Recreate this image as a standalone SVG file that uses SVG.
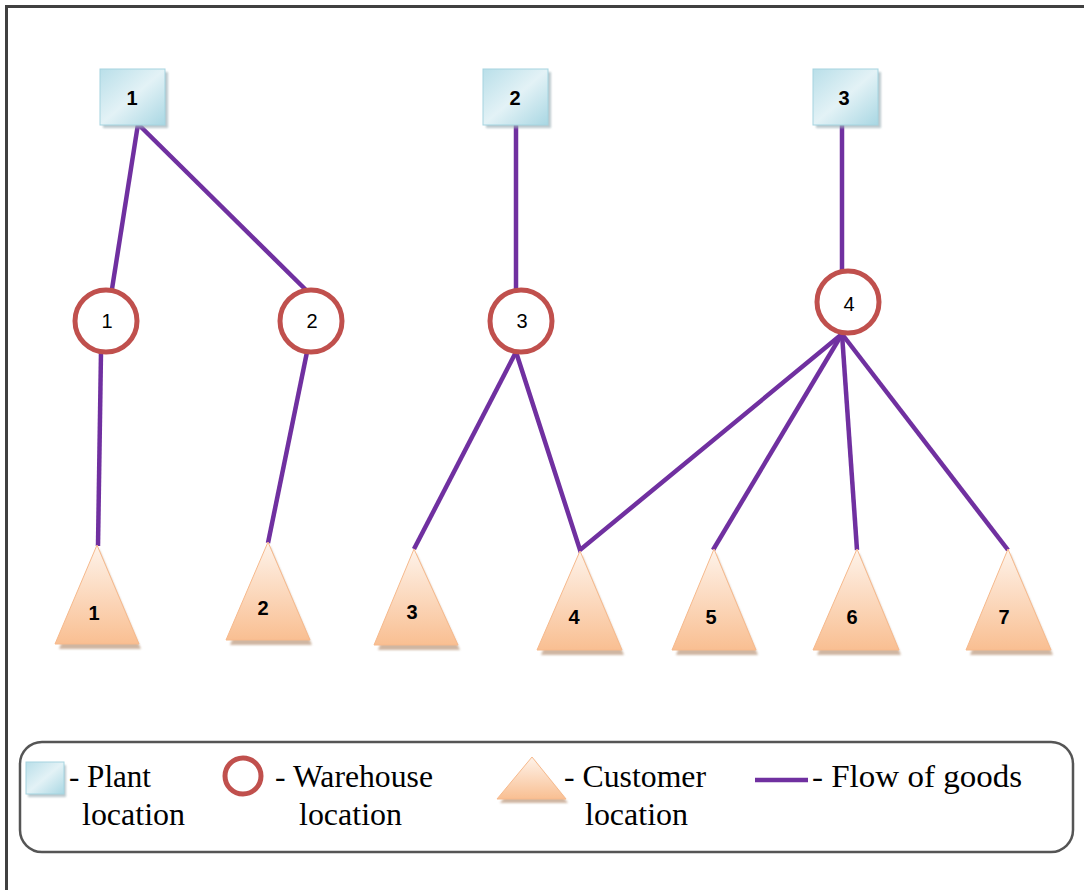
<svg xmlns="http://www.w3.org/2000/svg" width="1084" height="890" viewBox="0 0 1084 890">
  <defs>
    <linearGradient id="plantFill" x1="0" y1="0" x2="1" y2="1">
      <stop offset="0" stop-color="#b9dfe9"/>
      <stop offset="0.5" stop-color="#e3f2f6"/>
      <stop offset="1" stop-color="#a9d7e3"/>
    </linearGradient>
    <linearGradient id="custFill" x1="0" y1="0" x2="0" y2="1">
      <stop offset="0" stop-color="#fef3ea"/>
      <stop offset="1" stop-color="#f9bf92"/>
    </linearGradient>
    <filter id="soft" x="-20%" y="-20%" width="140%" height="140%">
      <feGaussianBlur stdDeviation="1.2"/>
    </filter>
  </defs>
  <style>
    .frame { fill: none; stroke: #404040; stroke-width: 3; }
    .plant { fill: url(#plantFill); stroke: #a5d4e0; stroke-width: 1; }
    .plant-shadow { fill: #9fb3b9; opacity: 0.7; filter: url(#soft); }
    .wh { fill: #ffffff; stroke: #c0504d; stroke-width: 5; }
    .cust { fill: url(#custFill); stroke: #f6b98c; stroke-width: 1; }
    .cust-shadow { fill: #c4a58c; opacity: 0.8; filter: url(#soft); }
    .flow { stroke: #7030a0; stroke-width: 4.5; stroke-linecap: butt; fill: none; }
    .num { font-family: "Liberation Sans", "DejaVu Sans", sans-serif; font-size: 20px; fill: #000; text-anchor: middle; }
    .bold { font-weight: bold; }
    .legend-box { fill: #ffffff; stroke: #555555; stroke-width: 2.5; }
    .legend-text { font-family: "Liberation Serif", "DejaVu Serif", serif; font-size: 31px; fill: #000; }
  </style>

  <rect x="0" y="0" width="1084" height="890" fill="#ffffff"/>
  <path class="frame" d="M6.5 890 V6.5 H1084"/>

  <!-- flows of goods -->
  <g id="connectors">
    <line class="flow" x1="138" y1="124" x2="112" y2="289"/>
    <line class="flow" x1="138" y1="124" x2="306" y2="290"/>
    <line class="flow" x1="101" y1="352" x2="98" y2="546"/>
    <line class="flow" x1="307" y1="352" x2="268" y2="543"/>
    <line class="flow" x1="516" y1="125" x2="516" y2="290"/>
    <line class="flow" x1="516" y1="352" x2="414" y2="549"/>
    <polyline class="flow" points="516,352 580,550 842,334"/>
    <line class="flow" x1="842" y1="125" x2="842" y2="272"/>
    <line class="flow" x1="842" y1="334" x2="713" y2="550"/>
    <line class="flow" x1="842" y1="334" x2="857" y2="550"/>
    <line class="flow" x1="842" y1="334" x2="1008" y2="550"/>
  </g>

  <!-- plants -->
  <g id="plant-1">
    <rect class="plant-shadow" x="103" y="72" width="65" height="56"/>
    <rect class="plant" x="100" y="69" width="65" height="56"/>
    <text class="num bold" x="132" y="105">1</text>
  </g>
  <g id="plant-2">
    <rect class="plant-shadow" x="486" y="72" width="65" height="56"/>
    <rect class="plant" x="483" y="69" width="65" height="56"/>
    <text class="num bold" x="515" y="105">2</text>
  </g>
  <g id="plant-3">
    <rect class="plant-shadow" x="816" y="72" width="65" height="56"/>
    <rect class="plant" x="813" y="69" width="65" height="56"/>
    <text class="num bold" x="844" y="105">3</text>
  </g>

  <!-- warehouses -->
  <g id="warehouse-1">
    <circle class="wh" cx="106" cy="321" r="31"/>
    <text class="num" x="107" y="328">1</text>
  </g>
  <g id="warehouse-2">
    <circle class="wh" cx="311" cy="321" r="31"/>
    <text class="num" x="312" y="328">2</text>
  </g>
  <g id="warehouse-3">
    <circle class="wh" cx="521" cy="321" r="31"/>
    <text class="num" x="522" y="328">3</text>
  </g>
  <g id="warehouse-4">
    <circle class="wh" cx="848" cy="302" r="31"/>
    <text class="num" x="849" y="311">4</text>
  </g>

  <!-- customers -->
  <g id="customer-1">
    <polygon class="cust-shadow" points="99,549 141,649 59,649"/>
    <polygon class="cust" points="97,545 139,644 55,644"/>
    <text class="num bold" x="94" y="620">1</text>
  </g>
  <g id="customer-2">
    <polygon class="cust-shadow" points="270,546 312,645 230,645"/>
    <polygon class="cust" points="268,542 310,640 226,640"/>
    <text class="num bold" x="263" y="615">2</text>
  </g>
  <g id="customer-3">
    <polygon class="cust-shadow" points="416,553 460,650 378,650"/>
    <polygon class="cust" points="414,549 458,645 374,645"/>
    <text class="num bold" x="412" y="619">3</text>
  </g>
  <g id="customer-4">
    <polygon class="cust-shadow" points="582,555 624,655 541,655"/>
    <polygon class="cust" points="580,551 622,650 537,650"/>
    <text class="num bold" x="574" y="624">4</text>
  </g>
  <g id="customer-5">
    <polygon class="cust-shadow" points="716,553 758,655 676,655"/>
    <polygon class="cust" points="714,549 756,650 672,650"/>
    <text class="num bold" x="711" y="624">5</text>
  </g>
  <g id="customer-6">
    <polygon class="cust-shadow" points="859,553 901,655 817,655"/>
    <polygon class="cust" points="857,549 899,650 813,650"/>
    <text class="num bold" x="852" y="624">6</text>
  </g>
  <g id="customer-7">
    <polygon class="cust-shadow" points="1010,553 1053,655 970,655"/>
    <polygon class="cust" points="1008,549 1051,650 966,650"/>
    <text class="num bold" x="1004" y="624">7</text>
  </g>

  <!-- legend -->
  <g id="legend">
    <rect class="legend-box" x="20" y="742" width="1053" height="110" rx="22" ry="22"/>
    <rect class="plant-shadow" x="28" y="765" width="38" height="32"/>
    <rect class="plant" x="26" y="762" width="38" height="32"/>
    <text class="legend-text" x="69" y="787" textLength="82" lengthAdjust="spacingAndGlyphs">- Plant</text>
    <text class="legend-text" x="82" y="825" textLength="103" lengthAdjust="spacingAndGlyphs">location</text>

    <circle class="wh" cx="243" cy="776" r="18"/>
    <text class="legend-text" x="275" y="787" textLength="158" lengthAdjust="spacingAndGlyphs">- Warehouse</text>
    <text class="legend-text" x="299" y="825" textLength="103" lengthAdjust="spacingAndGlyphs">location</text>

    <polygon class="cust-shadow" points="533,760 568,803 500,803"/>
    <polygon class="cust" points="532,757 566,799 497,799"/>
    <text class="legend-text" x="564" y="787" textLength="142" lengthAdjust="spacingAndGlyphs">- Customer</text>
    <text class="legend-text" x="585" y="825" textLength="103" lengthAdjust="spacingAndGlyphs">location</text>

    <line class="flow" x1="755" y1="780" x2="808" y2="780"/>
    <text class="legend-text" x="812" y="787" textLength="210" lengthAdjust="spacingAndGlyphs">- Flow of goods</text>
  </g>
</svg>
